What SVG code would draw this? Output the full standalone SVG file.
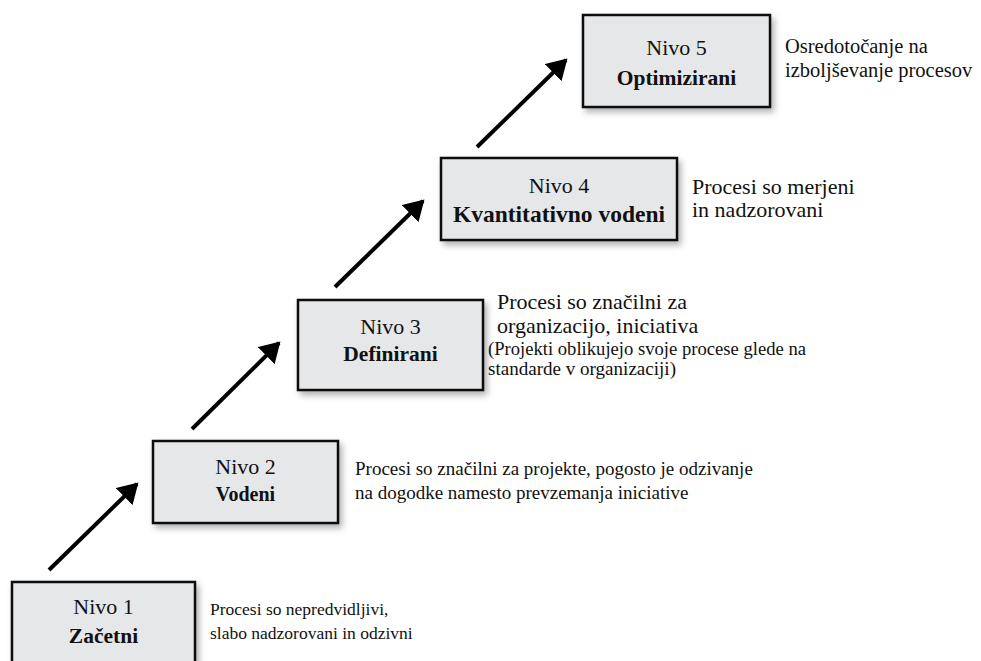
<svg xmlns="http://www.w3.org/2000/svg" width="981" height="661" viewBox="0 0 981 661">
<style>
.box{fill:#e6e7e9;stroke:#111;stroke-width:2.5;filter:url(#sh)}
.t{font-family:"Liberation Serif","Times New Roman",serif;font-size:20px;fill:#111}
.c{text-anchor:middle}
.n{font-size:22px}
.b{font-weight:bold;font-size:21.5px}
.arr{stroke:#000;stroke-width:4;fill:none;marker-end:url(#ah)}
</style>
<defs>
<filter id="sh" x="-10%" y="-10%" width="130%" height="140%">
<feDropShadow dx="3" dy="4" stdDeviation="3" flood-color="#000" flood-opacity="0.3"/>
</filter>
<marker id="ah" markerWidth="6" markerHeight="6" refX="4.5" refY="3" orient="auto" markerUnits="strokeWidth">
<path d="M0,0 L5,3 L0,6 Z" fill="#000"/>
</marker>
</defs>
<rect width="981" height="661" fill="#fff"/>
<g id="connectors">
<line class="arr" x1="49" y1="570" x2="137" y2="484"/>
<line class="arr" x1="192" y1="429" x2="279" y2="343"/>
<line class="arr" x1="335" y1="287" x2="423" y2="201"/>
<line class="arr" x1="477" y1="147" x2="566" y2="60"/>
</g>
<g id="nivo1">
<rect class="box" x="12" y="582" width="183" height="90"/>
<text class="t c n" x="103.5" y="614">Nivo 1</text>
<text class="t c b" x="103.5" y="643">Začetni</text>
</g>
<g id="nivo2">
<rect class="box" x="153" y="441" width="185" height="82"/>
<text class="t c n" x="245.5" y="474">Nivo 2</text>
<text class="t c b" x="245.5" y="501" style="font-size:20px">Vodeni</text>
</g>
<g id="nivo3">
<rect class="box" x="298" y="300" width="185" height="90"/>
<text class="t c n" x="390.5" y="334">Nivo 3</text>
<text class="t c b" x="390.5" y="361">Definirani</text>
</g>
<g id="nivo4">
<rect class="box" x="441" y="158" width="236" height="82"/>
<text class="t c n" x="559" y="193">Nivo 4</text>
<text class="t c b" x="559" y="222" style="font-size:23.5px">Kvantitativno vodeni</text>
</g>
<g id="nivo5">
<rect class="box" x="583" y="15" width="187" height="92"/>
<text class="t c n" x="676.5" y="55">Nivo 5</text>
<text class="t c b" x="676.5" y="85">Optimizirani</text>
</g>
<g id="descriptions">
<text class="t" x="210" y="615" style="font-size:17.5px">Procesi so nepredvidljivi,</text>
<text class="t" x="210" y="639" style="font-size:17.5px">slabo nadzorovani in odzivni</text>
<text class="t" x="355" y="475" style="font-size:19px">Procesi so značilni za projekte, pogosto je odzivanje</text>
<text class="t" x="355" y="499" style="font-size:19px">na dogodke namesto prevzemanja iniciative</text>
<text class="t" x="497" y="309" style="font-size:22px">Procesi so značilni za</text>
<text class="t" x="497" y="333" style="font-size:22px">organizacijo, iniciativa</text>
<text class="t" x="488" y="355" style="font-size:18px" textLength="318" lengthAdjust="spacingAndGlyphs">(Projekti oblikujejo svoje procese glede na</text>
<text class="t" x="488" y="375" style="font-size:18px" textLength="188" lengthAdjust="spacingAndGlyphs">standarde v organizaciji)</text>
<text class="t" x="692" y="194" style="font-size:22px">Procesi so merjeni</text>
<text class="t" x="692" y="217" style="font-size:22px">in nadzorovani</text>
<text class="t" x="785" y="53" style="font-size:20.5px">Osredotočanje na</text>
<text class="t" x="785" y="77" style="font-size:20.5px">izboljševanje procesov</text>
</g>
</svg>
